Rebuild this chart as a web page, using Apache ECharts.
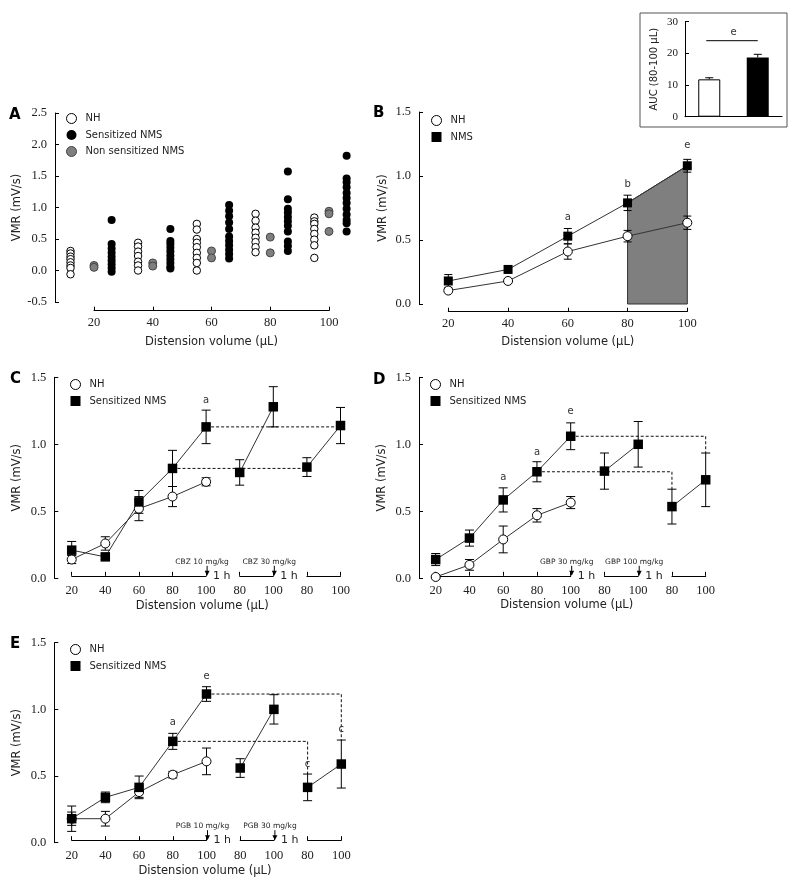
<!DOCTYPE html>
<html><head><meta charset="utf-8">
<script src="https://cdn.jsdelivr.net/npm/echarts@6/dist/echarts.min.js"></script>
<style>html,body{margin:0;padding:0;background:#fff}#c{width:800px;height:889px}</style>
</head><body><div id="c"></div>
<script>
// ---------------- DATA ----------------
// Panel A: individual animals (VMR, mV/s)
const aNHx = [12, 35, 55, 75, 95];
const aNH = [
  [0.31, 0.27, 0.22, 0.18, 0.13, 0.08, 0.04, -0.06],
  [0.44, 0.38, 0.30, 0.23, 0.14, 0.08, 0.00],
  [0.74, 0.65, 0.50, 0.44, 0.37, 0.28, 0.20, 0.12, 0.00],
  [0.90, 0.79, 0.68, 0.60, 0.52, 0.45, 0.37, 0.29],
  [0.84, 0.78, 0.74, 0.66, 0.58, 0.49, 0.40, 0.20]
];
const aNonX = [20, 40, 60, 80, 100];
const aNon = [[0.08, 0.05], [0.12, 0.07], [0.31, 0.20], [0.53, 0.28], [0.94, 0.90, 0.62]];
const aSensX = [26, 46, 66, 86, 106];
const aSens = [
  [0.80, 0.42, 0.35, 0.28, 0.22, 0.16, 0.10, 0.04, -0.02],
  [0.66, 0.47, 0.42, 0.36, 0.30, 0.24, 0.18, 0.12, 0.06, 0.03],
  [1.04, 0.95, 0.86, 0.76, 0.66, 0.54, 0.47, 0.40, 0.33, 0.26, 0.19],
  [1.57, 1.13, 0.98, 0.92, 0.85, 0.78, 0.71, 0.62, 0.46, 0.39, 0.31],
  [1.82, 1.46, 1.40, 1.32, 1.23, 1.15, 1.07, 0.98, 0.89, 0.80, 0.75, 0.62]
];
// Panel B
const bVol = [20, 40, 60, 80, 100];
const bNH = [0.105, 0.18, 0.41, 0.53, 0.635];
const bNHerr = [0.015, 0.015, 0.06, 0.045, 0.052];
const bNMS = [0.18, 0.27, 0.53, 0.79, 1.08];
const bNMSerr = [0.05, 0.02, 0.06, 0.06, 0.05];
const bAreaIdx = [3, 4];
const bSigIdx = [2, 3, 4];
const bSigY = [0.675, 0.937, 1.24];
const bSigTxt = ['a', 'b', 'e'];
// Inset: AUC 80-100 uL
const aucCats = ['NH', 'NMS'];
const auc = [11.8, 18.7];
const aucErr = [0.5, 1.0];
const aucSigY = 24;
const aucSigTxt = 'e';
// Panels C-E: x positions 0..8 = volumes below
const stepVol = [20, 40, 60, 80, 100, 80, 100, 80, 100];
const stepSegs = [[0, 4], [5, 6], [7, 8]];
// Panel C (CBZ)
const cNH = [0.14, 0.26, 0.52, 0.61, 0.72];
const cNHerr = [0.03, 0.05, 0.09, 0.075, 0.03];
const cNMS = [0.21, 0.16, 0.57, 0.82, 1.13, 0.79, 1.28, 0.83, 1.14];
const cNMSerr = [0.065, 0.02, 0.085, 0.135, 0.125, 0.095, 0.15, 0.07, 0.135];
const cDash = [[4, 8], [3, 7]];
const cSigIdx = [4], cSigY = [1.33], cSigTxt = ['a'];
const cDrugIdx = [4, 6], cDrugTxt = ['CBZ 10 mg/kg', 'CBZ 30 mg/kg'];
// Panel D (GBP)
const dNH = [0.01, 0.10, 0.29, 0.47, 0.565];
const dNHerr = [0.01, 0.04, 0.10, 0.05, 0.045];
const dNMS = [0.14, 0.30, 0.585, 0.795, 1.06, 0.80, 1.0, 0.535, 0.735];
const dNMSerr = [0.045, 0.06, 0.09, 0.075, 0.10, 0.135, 0.17, 0.13, 0.20];
const dDash = [[4, 8], [3, 7]];
const dSigIdx = [2, 3, 4], dSigY = [0.755, 0.94, 1.245], dSigTxt = ['a', 'a', 'e'];
const dDrugIdx = [4, 6], dDrugTxt = ['GBP 30 mg/kg', 'GBP 100 mg/kg'];
// Panel E (PGB)
const eNH = [0.18, 0.18, 0.38, 0.51, 0.61];
const eNHerr = [0.05, 0.055, 0.04, 0.025, 0.10];
const eNMS = [0.18, 0.34, 0.415, 0.76, 1.115, 0.56, 1.0, 0.415, 0.59];
const eNMSerr = [0.095, 0.04, 0.085, 0.06, 0.055, 0.07, 0.11, 0.10, 0.18];
const eDash = [[4, 8], [3, 7]];
const eSigIdx = [3, 4, 7, 8], eSigY = [0.9, 1.245, 0.59, 0.85], eSigTxt = ['a', 'e', 'c', 'c'];
const eDrugIdx = [4, 6], eDrugTxt = ['PGB 10 mg/kg', 'PGB 30 mg/kg'];

// ---------------- BUILD ----------------
const SANS = 'DejaVu Sans', SERIF = 'Liberation Serif', INK = '#222';
const grid = [], xAxis = [], yAxis = [], series = [], legend = [], title = [];
function g(left, top, width, height) { grid.push({ left, top, width, height }); return grid.length - 1; }
function linMap(pL, pR, p0, v0, p1, v1) { const k = (v1 - v0) / (p1 - p0); return [v0 + (pL - p0) * k, v0 + (pR - p0) * k]; }
const axLine = { show: true, onZero: false, lineStyle: { color: '#000', width: 1 } };
const axTick = { show: true, inside: true, length: 4, lineStyle: { color: '#000', width: 1 } };
const nameStyle = { fontFamily: SANS, fontSize: 11.5, color: INK };
function numLabel(fmt, margin) { return { show: true, fontFamily: SERIF, fontSize: 12.5, color: INK, margin, formatter: fmt }; }
function yVal(gi, min, max, interval, fmt, name, gap) {
  yAxis.push({ gridIndex: gi, type: 'value', min, max, interval, axisLine: axLine, axisTick: axTick,
    axisLabel: numLabel(fmt, 8), splitLine: { show: false }, name, nameLocation: 'middle', nameRotate: 90,
    nameGap: gap, nameTextStyle: nameStyle });
  return yAxis.length - 1;
}
function yHidden(gi) { yAxis.push({ gridIndex: gi, type: 'value', min: 0, max: 1, show: false }); return yAxis.length - 1; }
function xHidden(gi, range, name, gap) {
  xAxis.push({ gridIndex: gi, type: 'value', min: range[0], max: range[1], axisLine: { show: false, onZero: false },
    axisTick: { show: false }, axisLabel: { show: false }, splitLine: { show: false },
    name: name || '', nameLocation: 'middle', nameGap: gap || 0, nameTextStyle: nameStyle });
  return xAxis.length - 1;
}
function xShown(gi, min, max, interval, margin, name, gap) {
  xAxis.push({ gridIndex: gi, type: 'value', min, max, interval, axisLine: axLine, axisTick: axTick,
    axisLabel: numLabel(v => String(v), margin), splitLine: { show: false },
    name: name || '', nameLocation: 'middle', nameGap: gap || 0, nameTextStyle: nameStyle });
  return xAxis.length - 1;
}
const base = { silent: true, animation: false };
const openStyle = { color: '#fff', borderColor: '#000', borderWidth: 1, opacity: 1 };
const fillStyle = { color: '#000', borderColor: '#000', borderWidth: 0, opacity: 1 };
const greyStyle = { color: '#7f7f7f', borderColor: '#444', borderWidth: 1, opacity: 1 };

function markers(name, xi, yi, pts, symbol, size, style) {
  series.push(Object.assign({ type: 'scatter', name, xAxisIndex: xi, yAxisIndex: yi, data: pts, symbol,
    symbolSize: size, itemStyle: style, z: 6 }, base));
}
function polyline(name, xi, yi, pts, dashed) {
  series.push(Object.assign({ type: 'line', name, xAxisIndex: xi, yAxisIndex: yi, data: pts, showSymbol: false,
    symbol: 'none', lineStyle: { color: dashed ? '#111' : '#333', width: 1, type: dashed ? [3, 2] : 'solid' }, z: 3 }, base));
}
function errBars(xi, yi, pts, upOnly, cap) {
  series.push(Object.assign({ type: 'custom', xAxisIndex: xi, yAxisIndex: yi, data: pts, z: 4, clip: false,
    renderItem: (p, api) => {
      const x = api.value(0), y = api.value(1), e = api.value(2);
      const t = api.coord([x, y + e]), b = api.coord([x, upOnly ? y : y - e]);
      const st = { stroke: '#000', lineWidth: 1 };
      const ch = [
        { type: 'line', shape: { x1: t[0], y1: t[1], x2: b[0], y2: b[1] }, style: st },
        { type: 'line', shape: { x1: t[0] - cap, y1: t[1], x2: t[0] + cap, y2: t[1] }, style: st }];
      if (!upOnly) ch.push({ type: 'line', shape: { x1: b[0] - cap, y1: b[1], x2: b[0] + cap, y2: b[1] }, style: st });
      return { type: 'group', children: ch };
    } }, base));
}
function texts(xi, yi, pts, txt, size) {
  series.push(Object.assign({ type: 'custom', xAxisIndex: xi, yAxisIndex: yi, data: pts, z: 7, clip: false,
    renderItem: (p, api) => {
      const c = api.coord([api.value(0), api.value(1)]);
      return { type: 'text', x: c[0], y: c[1], style: { text: txt[p.dataIndex], fill: '#333', fontFamily: SANS,
        fontSize: size || 10, align: 'center', verticalAlign: 'middle' } };
    } }, base));
}
function addLegend(left, top, items) {
  legend.push({ left, top, orient: 'vertical', itemWidth: 10, itemHeight: 10, itemGap: 6, selectedMode: false,
    padding: 0, textStyle: { fontFamily: SANS, fontSize: 10, color: INK, padding: [0, 0, 0, 4] }, data: items });
}
function letter(t, left, top) {
  title.push({ text: t, left, top, padding: 0, textStyle: { fontFamily: SANS, fontSize: 15, fontWeight: 'bold', color: '#000' } });
}
const pair = (xs, ys) => xs.map((x, i) => [x, ys[i]]);
const triple = (xs, ys, es) => xs.map((x, i) => [x, ys[i], es[i]]);
const fmt1 = v => v.toFixed(1);

// ---- Panel A ----
{
  const gi = g(55, 113, 305, 189);
  const xi = xHidden(gi, linMap(55, 360, 94, 20, 329, 100));
  const yi = yVal(gi, -0.5, 2.5, 0.5, fmt1, 'VMR (mV/s)', 30);
  const ga = g(94, 300.7, 235, 10);
  xShown(ga, 20, 100, 20, 6, 'Distension volume (µL)', 25); yHidden(ga);
  const flat = (xs, vals) => xs.flatMap((x, i) => vals[i].map(v => [x, v]));
  markers('NH', xi, yi, flat(aNHx, aNH), 'circle', 7.5, openStyle);
  markers('Non sensitized NMS', xi, yi, flat(aNonX, aNon), 'circle', 8, greyStyle);
  markers('Sensitized NMS', xi, yi, flat(aSensX, aSens), 'circle', 8, fillStyle);
  addLegend(66, 113, [
    { name: 'NH', icon: 'circle', itemStyle: openStyle },
    { name: 'Sensitized NMS', icon: 'circle', itemStyle: fillStyle },
    { name: 'Non sensitized NMS', icon: 'circle', itemStyle: greyStyle }]);
  letter('A', 9, 107.5);
}
// ---- Panel B ----
{
  const gi = g(419, 112, 281, 192);
  const xi = xHidden(gi, linMap(419, 700, 448.3, 20, 687.3, 100));
  const yi = yVal(gi, 0, 1.5, 0.5, fmt1, 'VMR (mV/s)', 30);
  const ga = g(448.3, 301.7, 239, 10);
  xShown(ga, 20, 100, 20, 6, 'Distension volume (µL)', 24); yHidden(ga);
  series.push(Object.assign({ type: 'custom', xAxisIndex: xi, yAxisIndex: yi, data: [bAreaIdx], z: 1,
    renderItem: (p, api) => {
      const i0 = api.value(0), i1 = api.value(1);
      const pts = [[bVol[i0], 0], [bVol[i0], bNMS[i0]], [bVol[i1], bNMS[i1]], [bVol[i1], 0]].map(q => api.coord(q));
      return { type: 'polygon', shape: { points: pts }, style: { fill: '#7f7f7f', stroke: '#333', lineWidth: 1 } };
    } }, base));
  polyline('NH', xi, yi, pair(bVol, bNH));
  polyline('NMS', xi, yi, pair(bVol, bNMS));
  errBars(xi, yi, triple(bVol, bNH, bNHerr), false, 4);
  errBars(xi, yi, triple(bVol, bNMS, bNMSerr), false, 4);
  markers('NH', xi, yi, pair(bVol, bNH), 'circle', 9, openStyle);
  markers('NMS', xi, yi, pair(bVol, bNMS), 'rect', 9, fillStyle);
  texts(xi, yi, pair(bSigIdx.map(i => bVol[i]), bSigY), bSigTxt, 10);
  addLegend(431, 115, [
    { name: 'NH', icon: 'circle', itemStyle: openStyle },
    { name: 'NMS', icon: 'rect', itemStyle: fillStyle }]);
  letter('B', 373, 106);
}
// ---- Inset ----
{
  const gi = g(685, 21.7, 97, 95);
  xAxis.push({ gridIndex: gi, type: 'category', data: aucCats, axisLine: axLine,
    axisTick: { show: true, inside: true, length: 5, alignWithLabel: true, lineStyle: { color: '#000' } },
    axisLabel: { show: false }, splitLine: { show: false } });
  const xi = xAxis.length - 1;
  yAxis.push({ gridIndex: gi, type: 'value', min: 0, max: 30, interval: 10, axisLine: axLine, axisTick: axTick,
    axisLabel: { fontFamily: SERIF, fontSize: 11, color: INK, margin: 7 }, splitLine: { show: false },
    name: 'AUC (80-100 µL)', nameLocation: 'middle', nameRotate: 90, nameGap: 26,
    nameTextStyle: { fontFamily: SANS, fontSize: 10, color: INK } });
  const yi = yAxis.length - 1;
  series.push(Object.assign({ type: 'bar', xAxisIndex: xi, yAxisIndex: yi, barWidth: 22, z: 2,
    data: auc.map((v, i) => ({ value: v, itemStyle: i === 0 ? openStyle : fillStyle })) }, base));
  errBars(xi, yi, auc.map((v, i) => [i, v, aucErr[i]]), true, 4);
  series.push(Object.assign({ type: 'custom', xAxisIndex: xi, yAxisIndex: yi, data: [[0, 1, aucSigY]], z: 5,
    renderItem: (p, api) => {
      const a = api.coord([api.value(0), api.value(2)]), b = api.coord([api.value(1), api.value(2)]);
      return { type: 'group', children: [
        { type: 'line', shape: { x1: a[0] - 3, y1: a[1], x2: b[0], y2: b[1] }, style: { stroke: '#000', lineWidth: 1 } },
        { type: 'text', x: (a[0] + b[0]) / 2, y: a[1] - 3, style: { text: aucSigTxt, fill: '#333', fontFamily: SANS, fontSize: 10, align: 'center', verticalAlign: 'bottom' } }] };
    } }, base));
}
// ---- Panels C, D, E ----
function stepPanel(o) {
  const gi = g(o.left, o.top, o.right - o.left, o.zeroY - o.top);
  const k = (o.px8 - o.px0) / 8;
  const xi = xHidden(gi, linMap(o.left, o.right, o.px0, 0, o.px8, 8), 'Distension volume (µL)', o.nameGap);
  const yi = yVal(gi, 0, 1.5, 0.5, fmt1, 'VMR (mV/s)', 31);
  const axisY = o.zeroY - 2.5;
  stepSegs.forEach(s => {
    const sg = g(o.px0 + s[0] * k, axisY - 10, (s[1] - s[0]) * k, 10);
    xShown(sg, stepVol[s[0]], stepVol[s[1]], 20, o.labMargin); yHidden(sg);
  });
  const idx = o.nh.map((_, i) => i), idxN = o.nms.map((_, i) => i);
  polyline('NH', xi, yi, pair(idx, o.nh));
  stepSegs.forEach(s => polyline('Sensitized NMS', xi, yi, idxN.slice(s[0], s[1] + 1).map(i => [i, o.nms[i]])));
  o.dash.forEach(d => {
    const lvl = o.nms[d[0]], top = o.nms[d[1]] + o.nmsErr[d[1]];
    const pts = [[d[0], lvl], [d[1], lvl]];
    if (top < lvl) pts.push([d[1], top]);
    polyline('', xi, yi, pts, true);
  });
  errBars(xi, yi, triple(idx, o.nh, o.nhErr), false, 4.5);
  errBars(xi, yi, triple(idxN, o.nms, o.nmsErr), false, 4.5);
  markers('NH', xi, yi, pair(idx, o.nh), 'circle', 9, openStyle);
  markers('Sensitized NMS', xi, yi, pair(idxN, o.nms), 'rect', 9.5, fillStyle);
  texts(xi, yi, pair(o.sigIdx, o.sigY), o.sigTxt, 10);
  // dosing arrows, "1 h" gaps and drug labels
  series.push(Object.assign({ type: 'custom', xAxisIndex: xi, yAxisIndex: yi, data: o.drugIdx.map(i => [i, 0]), z: 7, clip: false,
    renderItem: (p, api) => {
      const c = api.coord([api.value(0), 0]);
      const by = c[1] - 2.5, ax = c[0] + 1;
      return { type: 'group', children: [
        { type: 'line', shape: { x1: ax, y1: by - 10, x2: ax, y2: by - 3 }, style: { stroke: '#000', lineWidth: 1 } },
        { type: 'polygon', shape: { points: [[ax - 2.5, by - 5], [ax + 2.5, by - 5], [ax, by]] }, style: { fill: '#000' } },
        { type: 'text', x: ax + 6, y: by, style: { text: '1 h', fill: INK, fontFamily: SANS, fontSize: 11, align: 'left', verticalAlign: 'middle' } },
        { type: 'text', x: c[0] - 4, y: by - 14, style: { text: o.drugTxt[p.dataIndex], fill: INK, fontFamily: SANS, fontSize: 7.5, align: 'center', verticalAlign: 'middle' } }] };
    } }, base));
  addLegend(o.legL, o.legT, [
    { name: 'NH', icon: 'circle', itemStyle: openStyle },
    { name: 'Sensitized NMS', icon: 'rect', itemStyle: fillStyle }]);
  letter(o.letter, o.letL, o.letT);
}
stepPanel({ left: 54.3, right: 350, top: 377.3, zeroY: 578.3, px0: 71.7, px8: 340.5, nameGap: 22, labMargin: 8,
  nh: cNH, nhErr: cNHerr, nms: cNMS, nmsErr: cNMSerr, dash: cDash, sigIdx: cSigIdx, sigY: cSigY, sigTxt: cSigTxt,
  drugIdx: cDrugIdx, drugTxt: cDrugTxt, legL: 70, legT: 379, letter: 'C', letL: 10, letT: 372 });
stepPanel({ left: 419, right: 714.4, top: 377.3, zeroY: 578.3, px0: 435.7, px8: 705.7, nameGap: 21, labMargin: 8,
  nh: dNH, nhErr: dNHerr, nms: dNMS, nmsErr: dNMSerr, dash: dDash, sigIdx: dSigIdx, sigY: dSigY, sigTxt: dSigTxt,
  drugIdx: dDrugIdx, drugTxt: dDrugTxt, legL: 430, legT: 379, letter: 'D', letL: 373, letT: 373 });
stepPanel({ left: 54.3, right: 355.7, top: 642.7, zeroY: 842.7, px0: 71.7, px8: 341.3, nameGap: 22, labMargin: 9,
  nh: eNH, nhErr: eNHerr, nms: eNMS, nmsErr: eNMSerr, dash: eDash, sigIdx: eSigIdx, sigY: eSigY, sigTxt: eSigTxt,
  drugIdx: eDrugIdx, drugTxt: eDrugTxt, legL: 70, legT: 644, letter: 'E', letL: 10, letT: 637 });

const chart = echarts.init(document.getElementById('c'), null, { renderer: 'canvas' });
chart.setOption({
  backgroundColor: '#fff', animation: false, title, legend, grid, xAxis, yAxis, series,
  graphic: [{ type: 'rect', shape: { x: 640, y: 13, width: 147, height: 114 }, style: { fill: 'transparent', stroke: '#555', lineWidth: 1 }, silent: true }]
});
</script></body></html>
